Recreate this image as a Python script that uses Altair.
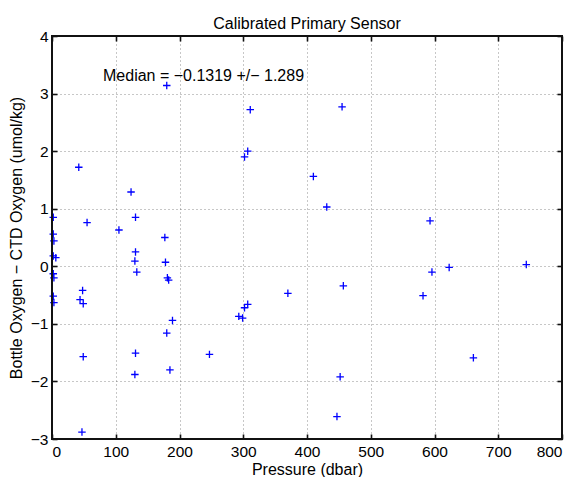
import altair as alt
import pandas as pd

# ---- data ----
pressure = [180, 42, 124, 2, 55, 131, 105, 2, 3, 177,
            131, 2, 6, 130, 178, 133, 2, 3, 181, 183,
            48, 2, 44, 3, 49, 189, 180, 131, 49, 247,
            130, 185, 47, 311, 455, 307, 302, 410, 431, 457,
            370, 307, 302, 293, 299, 452, 447, 593, 623, 596,
            744, 582, 661]
oxy_diff = [3.14, 1.72, 1.29, 0.85, 0.76, 0.85, 0.63, 0.56, 0.44, 0.50,
            0.25, 0.18, 0.15, 0.09, 0.07, -0.10, -0.13, -0.20, -0.20, -0.24,
            -0.42, -0.52, -0.58, -0.63, -0.65, -0.94, -1.16, -1.51, -1.57, -1.53,
            -1.88, -1.80, -2.88, 2.72, 2.77, 2.00, 1.90, 1.56, 1.03, -0.34,
            -0.47, -0.66, -0.72, -0.87, -0.90, -1.92, -2.61, 0.79, -0.02, -0.10,
            0.03, -0.51, -1.59]
x_ticks = [0, 100, 200, 300, 400, 500, 600, 700, 800]
y_ticks = [-3, -2, -1, 0, 1, 2, 3, 4]
x_domain = [0, 800]
y_domain = [-3, 4]
chart_title = "Calibrated Primary Sensor"
x_title = "Pressure (dbar)"
y_title = "Bottle Oxygen \u2212 CTD Oxygen (umol/kg)"
median_label = ["Median = \u22120.1319 +/\u2212 1.289"]
median_x = [80]
median_y = [3.3]

df = pd.DataFrame({"p": pressure, "d": oxy_diff})
ann = pd.DataFrame({"p": median_x, "d": median_y, "t": median_label})
box = pd.DataFrame({"x0": [x_domain[0]], "x1": [x_domain[1]],
                    "y0": [y_domain[0]], "y1": [y_domain[1]]})

FONT = "Liberation Sans"
xscale = alt.Scale(domain=x_domain, nice=False, zero=False)
yscale = alt.Scale(domain=y_domain, nice=False, zero=False)
plus = "M-1,0L1,0M0,-1L0,1"

common_axis = dict(domain=False, tickColor="#111111", tickSize=5, offset=-5, tickWidth=1.6,
                   labelFont=FONT, labelFontSize=15.5, labelColor="black",
                   titleFont=FONT, titleFontSize=16, titleColor="black",
                   titleFontWeight="normal", gridColor="#444444", gridOpacity=0.6,
                   gridDash=[1, 3], gridWidth=1)

points = alt.Chart(df).mark_point(
    shape=plus, size=56, color="#0000ff", strokeWidth=1.3, filled=False, opacity=1
).encode(
    x=alt.X("p:Q", scale=xscale,
            axis=alt.Axis(orient="bottom", values=x_ticks, title=x_title, grid=True,
                          labelPadding=5, titlePadding=2, **common_axis)),
    y=alt.Y("d:Q", scale=yscale,
            axis=alt.Axis(orient="left", values=y_ticks, title=y_title, grid=True,
                          labelPadding=4, titlePadding=6, **common_axis)),
)

frame = alt.Chart(df).mark_point(opacity=0).encode(
    x=alt.X("p:Q", scale=xscale,
            axis=alt.Axis(orient="top", values=x_ticks, title=None, grid=False,
                          labels=False, **common_axis)),
    y=alt.Y("d:Q", scale=yscale,
            axis=alt.Axis(orient="right", values=y_ticks, title=None, grid=False,
                          labels=False, **common_axis)),
)

border = alt.Chart(box).mark_rect(
    stroke="#111111", strokeWidth=2, fill="white", fillOpacity=0
).encode(
    x=alt.X("x0:Q", scale=xscale, axis=None),
    x2="x1:Q",
    y=alt.Y("y0:Q", scale=yscale, axis=None),
    y2="y1:Q",
)

label = alt.Chart(ann).mark_text(
    align="left", baseline="middle", font=FONT, fontSize=16, color="black"
).encode(
    x=alt.X("p:Q", scale=xscale, axis=None),
    y=alt.Y("d:Q", scale=yscale, axis=None),
    text="t:N",
)

chart = alt.layer(points, frame, label, border).resolve_axis(
    x="independent", y="independent"
).properties(
    width=510, height=403,
    title=alt.TitleParams(chart_title, font=FONT, fontSize=16, fontWeight="normal",
                          color="black", anchor="middle", offset=2, dy=5),
    autosize=alt.AutoSizeParams(type="none"),
    padding={"left": 44, "top": 28, "right": 6, "bottom": 38},
    background="white",
).configure_view(stroke=None)

chart.save("out.html", embed_options={"renderer": "svg", "actions": False})
